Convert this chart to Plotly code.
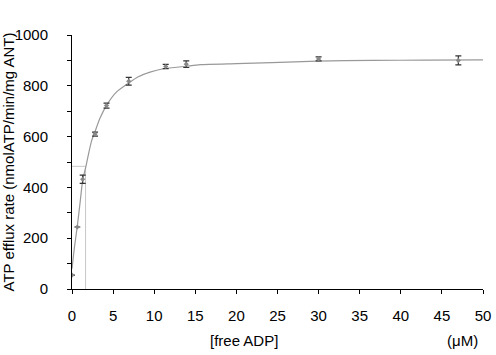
import plotly.graph_objects as go

# measured data
adp = [0, 0.65, 1.3, 2.8, 4.2, 6.9, 11.4, 13.9, 30.0, 47.0]
rate = [55, 244, 432, 610, 722, 818, 876, 885, 906, 900]
err = [0, 0, 16, 8, 10, 15, 8, 13, 8, 18]

# fitted curve
fit_x = [0, 0.3, 0.65, 1.0, 1.3, 1.7, 2.1, 2.4, 2.8, 3.4, 4.2, 5.4, 6.9, 8.0, 9.5, 11.1, 13.9, 15.6, 20, 24.3, 29.8, 36.6, 43, 50]
fit_y = [80, 165, 248, 345, 428, 484, 545, 585, 620, 672, 723, 775, 811, 835, 854, 867, 877, 883, 887, 891, 897, 900, 901, 902]

# half-max guide lines
guide_x = [0, 1.65, 1.65]
guide_y = [483, 483, 0]

fig = go.Figure()
fig.add_trace(go.Scatter(x=guide_x, y=guide_y, mode="lines",
                         line=dict(color="#c8c8c8", width=1), hoverinfo="skip"))
fig.add_trace(go.Scatter(x=fit_x, y=fit_y, mode="lines",
                         line=dict(color="#999999", width=1.2, shape="spline", smoothing=0.6)))
fig.add_trace(go.Scatter(x=adp, y=rate, mode="markers",
                         marker=dict(color="#888888", size=4, symbol="diamond"),
                         error_y=dict(type="data", array=err, visible=True,
                                      color="#333333", thickness=1.2, width=3)))

font = dict(family="Liberation Sans, Arial, sans-serif", size=15, color="black")
L, R, T, B, W, H = 72, 13, 35, 66, 496, 355
fig.update_layout(
    width=W, height=H,
    margin=dict(l=L, r=R, t=T, b=B, autoexpand=False),
    paper_bgcolor="white", plot_bgcolor="white",
    showlegend=False, font=font,
    xaxis=dict(range=[0, 50], dtick=5, showgrid=False, zeroline=False,
               showline=True, linecolor="black", linewidth=1, automargin=False,
               ticks="outside", ticklen=4, tickcolor="black", tickfont=font,
               ticklabelstandoff=9),
    yaxis=dict(range=[0, 1000], dtick=200, showgrid=False, zeroline=False,
               showline=True, linecolor="black", linewidth=1, automargin=False,
               ticks="outside", ticklen=4, tickcolor="black", tickfont=font,
               ticklabelstandoff=16,
               minor=dict(dtick=100, ticks="outside", ticklen=4, tickcolor="black"),
               title=dict(text="ATP efflux rate (nmolATP/min/mg ANT)", font=font, standoff=0)),
    annotations=[
        dict(text="[free ADP]", x=244, y=340, showarrow=False, font=font),
        dict(text="(\u03bcM)", x=462, y=340, showarrow=False, font=font),
    ],
)
# convert pixel positions for annotations into paper coords
pw = W - L - R
ph = H - T - B
for a in fig.layout.annotations:
    px, py = a.x, a.y
    a.xref = "paper"
    a.yref = "paper"
    a.x = (px - L) / pw
    a.y = (H - B - py) / ph
    a.xanchor = "center"
    a.yanchor = "middle"

fig.write_html("out.html", config={"displayModeBar": False},
               post_script="document.body.style.margin='0';")
